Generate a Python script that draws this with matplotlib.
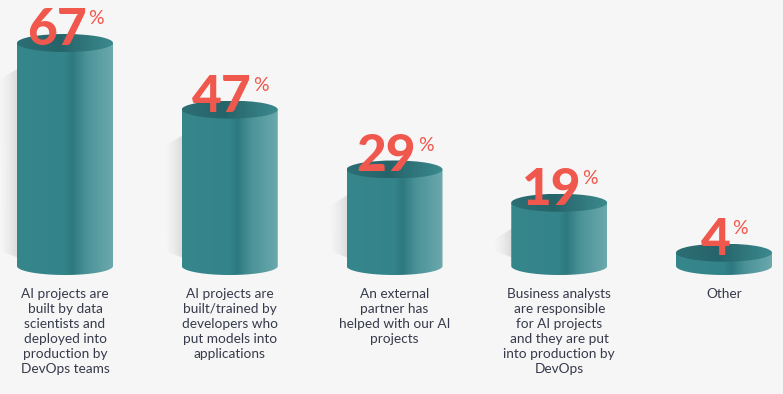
import numpy as np
import matplotlib.pyplot as plt
from matplotlib.patches import Ellipse, PathPatch, Polygon
from matplotlib.path import Path
from matplotlib.colors import LinearSegmentedColormap

# data
values = [67, 47, 29, 19, 4]
labels = [
    "AI projects are\nbuilt by data\nscientists and\ndeployed into\nproduction by\nDevOps teams",
    "AI projects are\nbuilt/trained by\ndevelopers who\nput models into\napplications",
    "An external\npartner has\nhelped with our AI\nprojects",
    "Business analysts\nare responsible\nfor AI projects\nand they are put\ninto production by\nDevOps",
    "Other",
]

BG = "#f6f6f6"
RED = "#f0574d"
TEXT = "#363a4a"

body_cmap = LinearSegmentedColormap.from_list(
    "body", [(0, "#36878c"), (0.5, "#33838a"), (0.58, "#2d797f"),
             (0.72, "#4a9297"), (1.0, "#6ba9ad")])
top_cmap = LinearSegmentedColormap.from_list(
    "top", [(0, "#2c6f74"), (0.45, "#26646a"), (1.0, "#3b8a8e")])

# pixel-like canvas
W, H = 783, 394
fig = plt.figure(figsize=(W / 100, H / 100), dpi=100, facecolor=BG)
ax = fig.add_axes([0, 0, 1, 1])
ax.set_xlim(0, W)
ax.set_ylim(H, 0)
ax.axis("off")
ax.set_facecolor(BG)

base = 266          # bottom ellipse centre
scale = 223 / 67    # pixels per percent
rx, ry = 48, 9
step = 164.75
x0 = 65

grad = np.linspace(0, 1, 256).reshape(1, -1)

for i, (v, lab) in enumerate(zip(values, labels)):
    cx = x0 + i * step
    top = base - v * scale

    # soft shadow on the left
    sh_top = top + 25
    if base - 10 > sh_top:
        shadow = np.zeros((2, 64, 4))
        shadow[..., :3] = 0.55
        shadow[..., 3] = np.linspace(0, 0.4, 64) ** 1.4
        im = ax.imshow(shadow, extent=[cx - rx - 18, cx - rx + 2, base - 8, sh_top],
                       aspect="auto", zorder=1, interpolation="bilinear")
        poly = Polygon([(cx - rx - 18, sh_top + 12), (cx - rx + 2, sh_top),
                        (cx - rx + 2, base - 8), (cx - rx - 14, base - 14)],
                       closed=True, facecolor="none", edgecolor="none")
        ax.add_patch(poly)
        im.set_clip_path(poly)

    # body: rectangle + bottom half ellipse
    t = np.linspace(0, np.pi, 60)
    verts = [(cx - rx, top)]
    verts += [(cx - rx * np.cos(a), base + ry * np.sin(a)) for a in t]
    verts += [(cx + rx, top), (cx - rx, top)]
    body = PathPatch(Path(verts), facecolor="none", edgecolor="none")
    ax.add_patch(body)
    im = ax.imshow(grad, cmap=body_cmap, extent=[cx - rx, cx + rx, base + ry, top],
                   aspect="auto", zorder=2)
    im.set_clip_path(body)

    # top ellipse
    ell = Ellipse((cx, top), 2 * rx, 2 * ry, facecolor="none", edgecolor="none")
    ax.add_patch(ell)
    im = ax.imshow(grad, cmap=top_cmap, extent=[cx - rx, cx + rx, top + ry, top - ry],
                   aspect="auto", zorder=3)
    im.set_clip_path(ell)

    # big percentage
    num = ax.text(cx - 8, top + 2, str(v), ha="center", va="baseline",
                  fontsize=37, fontweight="black", color=RED, family="Lato", zorder=5)
    ax.annotate("%", xy=(1, 1), xycoords=num, xytext=(1, -2.5),
                textcoords="offset points", ha="left", va="top",
                fontsize=14, color=RED, family="Lato", zorder=5)

    # category label
    ax.text(cx, 288, lab, ha="center", va="top", fontsize=9.8, color=TEXT,
            family="Lato", linespacing=1.3, zorder=5)

fig.savefig("out.png", dpi=100, facecolor=BG)
